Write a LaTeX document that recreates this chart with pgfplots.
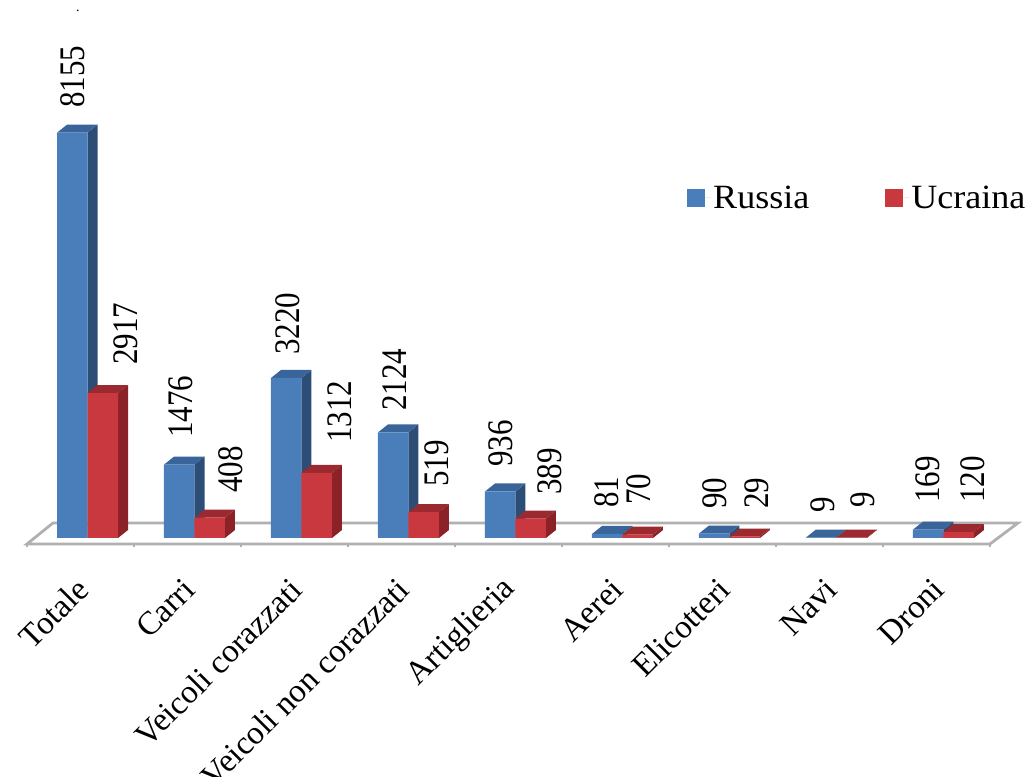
\documentclass[border=0pt]{standalone}
\usepackage{graphicx}
\usepackage{pgfplots}
\usepackage{pgfplotstable}
\usepackage{fontspec}
\setmainfont{Liberation Serif}
\pgfplotsset{compat=1.18}
\definecolor{bluef}{HTML}{4A7EBB}
\definecolor{blues}{HTML}{2C4D75}
\definecolor{bluet}{HTML}{3A659A}
\definecolor{redf}{HTML}{C9373F}
\definecolor{reds}{HTML}{8B2227}
\definecolor{redt}{HTML}{9A2A30}
\definecolor{floorc}{HTML}{B0B0B0}
% x = category; rg/ug = px from bar top to label; rx/ux = px from group centre to label
\pgfplotstableread{
x rus ukr rg rx ug ux
0 8155 2917 24.7 -14.5 28 38.5
1 1476 408 26.6 -13.5 24.7 36.5
2 3220 1312 23 -13.5 29.8 38.5
3 2124 519 21.4 -13.5 25 28.5
4 936 389 24.5 -14.5 23.7 34.5
5 81 70 26 -15.5 29.5 16.5
6 90 29 24.5 -14.5 27.6 27.5
7 9 9 24.5 -13.5 29.5 26.5
8 169 120 26.6 -15.5 29 29.5
}\datatable
% side and top faces of a bar: #1 left x of the front face, #2 value, #3 side colour, #4 top colour
\newcommand\depthfaces[4]{%
  \pgfmathsetmacro\xa{#1}%
  \pgfmathsetmacro\xb{#1+0.285}%
  \pgfmathsetmacro\xc{#1+0.285+0.0935}%
  \pgfmathsetmacro\xd{#1+0.0935}%
  \pgfmathsetmacro\yt{#2+161}%
  \edef\tmp{\noexpand\addplot[fill=#3,draw=none,forget plot] coordinates {(\xb,0) (\xc,161) (\xc,\yt) (\xb,#2)} --cycle;
  \noexpand\addplot[fill=#4,draw=none,forget plot] coordinates {(\xa,#2) (\xb,#2) (\xc,\yt) (\xd,\yt)} --cycle;}%
  \tmp
}
\begin{document}
\begin{tikzpicture}
\path[use as bounding box] (0,0) rectangle (1027pt,776pt);
\begin{axis}[
  scale only axis, width=1027pt, height=776pt,
  xmin=-0.8178, xmax=8.7804, ymin=-4789, ymax=10825,
  clip=false,
  axis line style={draw=none},
  ytick=\empty,
  xtick={0,...,8},
  xticklabels={Totale,Carri,Veicoli corazzati,Veicoli non corazzati,Artiglieria,Aerei,Elicotteri,Navi,Droni},
  major tick length=0pt,
  xticklabel style={yshift=192pt, xshift=-5pt, rotate=45, anchor=east, inner sep=0pt, font=\fontsize{33}{33}\selectfont},
  /pgf/number format/assume math mode=true,
  /pgf/number format/1000 sep={},
  legend style={at={(0.669,0.745)}, anchor=west, draw=none, fill=none, inner sep=0pt,
     font=\fontsize{34}{34}\selectfont, /tikz/every even column/.append style={column sep=74pt}},
  legend columns=2,
]
% floor
\addplot[fill=white,draw=floorc,line width=2.8pt,forget plot] coordinates {(-0.5654,-120.7) (-0.3224,301.8) (8.6963,301.8) (8.4346,-120.7)} --cycle;
\addplot[draw=floorc,line width=1.6pt,forget plot,unbounded coords=jump] coordinates {
(-0.5654,-120.7) (-0.5654,-181) (0.4346,nan)
(0.4346,-120.7) (0.4346,-181) (1.4346,nan)
(1.4346,-120.7) (1.4346,-181) (2.4346,nan)
(2.4346,-120.7) (2.4346,-181) (3.4346,nan)
(3.4346,-120.7) (3.4346,-181) (4.4346,nan)
(4.4346,-120.7) (4.4346,-181) (5.4346,nan)
(5.4346,-120.7) (5.4346,-181) (6.4346,nan)
(6.4346,-120.7) (6.4346,-181) (7.4346,nan)
(7.4346,-120.7) (7.4346,-181) (8.4346,nan)
(8.4346,-120.7) (8.4346,-181)
};
% Russia depth faces
\depthfaces{-0.285}{8155}{blues}{bluet}
\depthfaces{0.715}{1476}{blues}{bluet}
\depthfaces{1.715}{3220}{blues}{bluet}
\depthfaces{2.715}{2124}{blues}{bluet}
\depthfaces{3.715}{936}{blues}{bluet}
\depthfaces{4.715}{81}{blues}{bluet}
\depthfaces{5.715}{90}{blues}{bluet}
\depthfaces{6.715}{9}{blues}{bluet}
\depthfaces{7.715}{169}{blues}{bluet}
\addplot[ybar, bar width=30.5pt, bar shift=-15.25pt, fill=bluef, draw=none,
  legend image code/.code={\fill[bluef] (0pt,-9pt) rectangle (18pt,9pt); \path (0pt,0pt) -- (24pt,0pt);},
  visualization depends on={\thisrow{rg}\as\gap},
  visualization depends on={\thisrow{rx}\as\off},
  nodes near coords, every node near coord/.append style={xshift=\off pt, yshift=\gap pt, xscale=1.16, rotate=90, anchor=west, inner sep=0pt, font=\fontsize{31}{31}\selectfont, text=black}]
  table[x=x,y=rus]{\datatable};
\addlegendentry{\scalebox{1.06}[1]{Russia}}
% Ukraine depth faces
\depthfaces{0}{2917}{reds}{redt}
\depthfaces{1}{408}{reds}{redt}
\depthfaces{2}{1312}{reds}{redt}
\depthfaces{3}{519}{reds}{redt}
\depthfaces{4}{389}{reds}{redt}
\depthfaces{5}{70}{reds}{redt}
\depthfaces{6}{29}{reds}{redt}
\depthfaces{7}{9}{reds}{redt}
\depthfaces{8}{120}{reds}{redt}
\addplot[ybar, bar width=30.5pt, bar shift=15.25pt, fill=redf, draw=none,
  legend image code/.code={\fill[redf] (0pt,-9pt) rectangle (18pt,9pt); \path (0pt,0pt) -- (24pt,0pt);},
  visualization depends on={\thisrow{ug}\as\gap},
  visualization depends on={\thisrow{ux}\as\off},
  nodes near coords, every node near coord/.append style={xshift=\off pt, yshift=\gap pt, xscale=1.16, rotate=90, anchor=west, inner sep=0pt, font=\fontsize{31}{31}\selectfont, text=black}]
  table[x=x,y=ukr]{\datatable};
\addlegendentry{\scalebox{1.06}[1]{Ucraina}}
\node[font=\fontsize{14}{14}\selectfont] at (axis cs:-0.089,10600) {.};
\end{axis}
\end{tikzpicture}
\end{document}
